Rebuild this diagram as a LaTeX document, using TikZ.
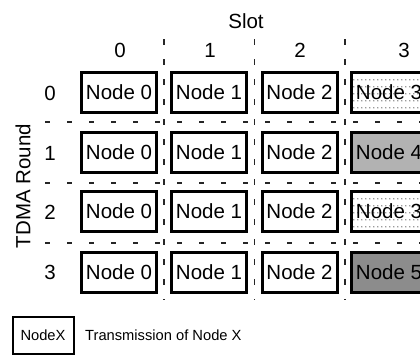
\documentclass[tikz,border=0pt]{standalone}
\usepackage{fontspec}
\setmainfont{Liberation Sans}
\usetikzlibrary{patterns.meta}
\pgfdeclarepattern{name=sparsedots, type=uncolored,
  bottom left={\pgfpoint{0pt}{0pt}}, top right={\pgfpoint{4.2pt}{7pt}},
  tile size={\pgfpoint{4.2pt}{7pt}},
  code={\pgfpathcircle{\pgfpoint{2.1pt}{3.5pt}}{0.7pt}\pgfusepath{fill}}}
\tikzset{
  slotbox/.style={draw=black, line width=3pt, minimum width=75pt, minimum height=40pt,
    inner sep=0pt, font=\fontsize{20.5pt}{22pt}\selectfont, fill=white},
  dotsbox/.style={slotbox, pattern=sparsedots, pattern color=black!80},
  lightbox/.style={slotbox, fill=black!30},
  darkbox/.style={slotbox, fill=black!45},
  lbl/.style={font=\fontsize{20.5pt}{22pt}\selectfont, inner sep=0pt},
  hsep/.style={line width=1.4pt, draw=black!85, dash pattern=on 5pt off 17pt},
  vsep/.style={line width=1.6pt, draw=black!85, dash pattern=on 6pt off 14pt},
  legbox/.style={draw=black, line width=2pt, minimum width=61pt, minimum height=37pt,
    inner sep=0pt, font=\fontsize{14.7pt}{16pt}\selectfont},
  legtext/.style={font=\fontsize{14.7pt}{16pt}\selectfont, inner sep=0pt, anchor=west}
}
\begin{document}
\begin{tikzpicture}[x=1pt,y=-1pt]
\useasboundingbox (0,0) rectangle (420,356);
\begin{scope}
\clip (0,0) rectangle (420,356);
% separators
\coordinate (h1a) at (45,122); \coordinate (h1b) at (420,122);
\coordinate (h2a) at (45,183); \coordinate (h2b) at (420,183);
\coordinate (h3a) at (45,243); \coordinate (h3b) at (420,243);
\draw[hsep] (h1a) -- (h1b);
\draw[hsep] (h2a) -- (h2b);
\draw[hsep] (h3a) -- (h3b);
\coordinate (v1a) at (164,39); \coordinate (v1b) at (164,300);
\coordinate (v2a) at (254.5,39); \coordinate (v2b) at (254.5,300);
\coordinate (v3a) at (345,39); \coordinate (v3b) at (345,300);
\draw[vsep] (v1a) -- (v1b);
\draw[vsep] (v2a) -- (v2b);
\draw[vsep] (v3a) -- (v3b);
% headers
\node[lbl] (slot) at (246,21) {Slot};
\node[lbl] (c0) at (120,50) {0};
\node[lbl] (c1) at (210,50) {1};
\node[lbl] (c2) at (300,50) {2};
\node[lbl] (c3) at (404,50) {3};
\node[lbl] (r0) at (50,93) {0};
\node[lbl] (r1) at (50,153) {1};
\node[lbl] (r2) at (50,212) {2};
\node[lbl] (r3) at (50,272) {3};
\node[lbl, rotate=90] (tdma) at (23,186) {TDMA Round};
% boxes
\foreach \r/\y in {0/92,1/152,2/211.5,3/272}{
  \node[slotbox] (b\r c0) at (119,\y) {Node 0};
  \node[slotbox] (b\r c1) at (209,\y) {Node 1};
  \node[slotbox] (b\r c2) at (299.5,\y) {Node 2};
}
\node[dotsbox] (b0c3) at (389,92) {Node 3};
\node[lightbox] (b1c3) at (389,152) {Node 4};
\node[dotsbox] (b2c3) at (389,211.5) {Node 3};
\node[darkbox] (b3c3) at (389,272) {Node 5};
% legend
\node[legbox] (leg) at (43,335) {NodeX};
\node[legtext] (legt) at (85,335) {Transmission of Node X};
\end{scope}
\end{tikzpicture}
\end{document}
